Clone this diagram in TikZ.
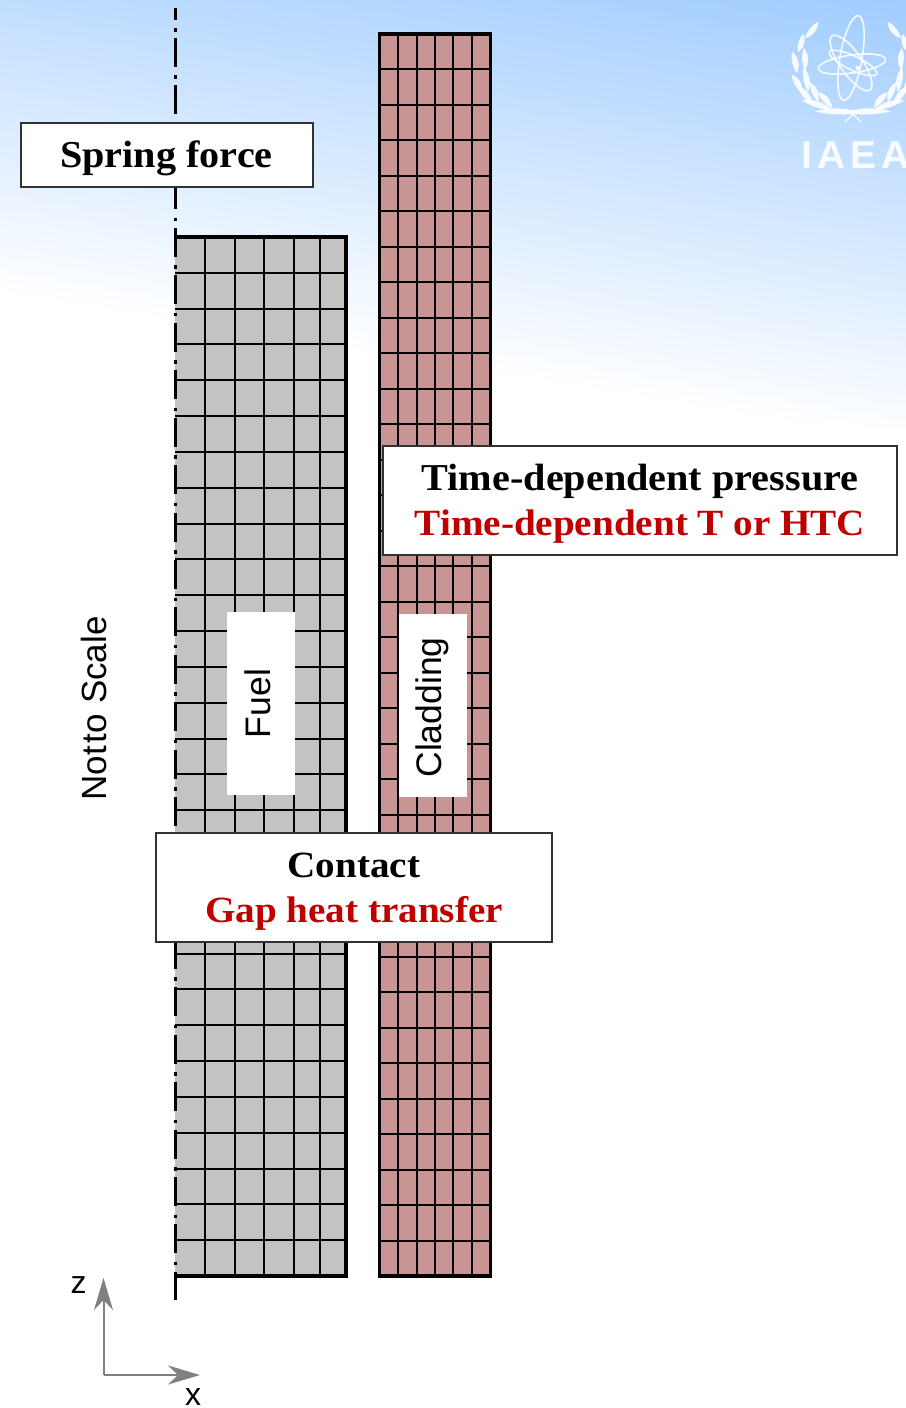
\documentclass[tikz,border=0pt]{standalone}
\usepackage{fontspec}
\setmainfont[FakeStretch=1.058]{Liberation Serif}
\setsansfont{Liberation Sans}
\newfontfamily\logofont[LetterSpace=13]{Liberation Sans}
\usetikzlibrary{positioning,arrows.meta}
\definecolor{skyblue}{RGB}{160,204,255}
\definecolor{fuelgray}{RGB}{195,195,195}
\definecolor{cladpink}{RGB}{200,148,148}
\definecolor{labelred}{RGB}{192,0,0}
\definecolor{boxedge}{RGB}{50,50,50}
\definecolor{axisgray}{RGB}{128,128,128}
\newcommand{\lift}{\rule{0pt}{34pt}}
\newcommand{\redline}[1]{\textcolor{labelred}{\fontsize{37}{45}\selectfont #1}}

\begin{document}
\begin{tikzpicture}[
  x=1pt, y=-1pt,
  gridline/.style={line width=2pt, line cap=butt},
  outline/.style={line width=3.2pt, miter limit=10},
  infobox/.style={draw=boxedge, fill=white, line width=2pt, align=center, inner sep=0pt,
    font=\fontsize{38}{45}\selectfont\bfseries},
  sidelabel/.style={inner sep=0pt, rotate=90, font=\sffamily\fontsize{35.5}{35.5}\selectfont},
  axislabel/.style={inner sep=0pt, font=\sffamily\fontsize{32}{32}\selectfont},
  scalelabel/.style={inner sep=0pt, rotate=90, font=\sffamily\fontsize{35}{35}\selectfont},
  axisarrow/.style={draw=axisgray, line width=2pt, -{Stealth[length=32pt, width=19pt, inset=10pt]}},
  logoline/.style={draw=white, draw opacity=0.85, line width=1.7pt},
]
\useasboundingbox (0,0) rectangle (905,1408);

% Background
\begin{scope}
  \clip (-10,-10) rectangle (915,426);
  \foreach \p in {0,...,100}
    \fill[white!\p!skyblue, rotate around={-9.4:(452,365)}] (-300,365-4.4*100+4.4*\p) rectangle (1200,900);

  % Logo
  \foreach \tilt/\big/\small/\cx/\cy in {80/43/11/851/58, -55/33/11/851/63, 8/34/9/852/64, -25/26/7/853/63}
    \draw[logoline] (\cx,\cy) ellipse[x radius=\big, y radius=\small, rotate=\tilt];
  \fill[white, opacity=0.9] (858,68) circle (2.4);
  \foreach \s in {1,-1} {
    \begin{scope}[shift={(853,0)}, xscale=\s]
      \foreach \px/\py/\ang/\len in {-48/38/51/21, -55/52/74/19, -56/73/103/22, -48/70/93/22, -51/93/119/21,
          -45/92/100/25, -40/105/129/25, -35/102/112/21, -21/110/162/32, -21/108/131/21, 9/113/178/47}
        \fill[white, opacity=0.9, shift={(\px,\py)}, rotate=\ang]
          (0,0) .. controls (0.3*\len,5) and (0.7*\len,5) .. (\len,0)
          .. controls (0.7*\len,-3) and (0.3*\len,-3) .. (0,0);
      \draw[white, opacity=0.9, line width=1.2pt] (-8,122) .. controls (-2,116) and (2,112) .. (5,111);
    \end{scope}
  }
  \node[anchor=base west, inner sep=0pt, text=white, opacity=0.9,
        font=\logofont\bfseries\fontsize{39}{39}\selectfont] (iaea) at (801,168) {IAEA};
\end{scope}

% Fuel
\fill[fuelgray] (175,237) rectangle (346,1276);
\foreach \gx in {205,234.5,264,294,320}
  \draw[gridline] (\gx,237) -- (\gx,1276);
\foreach \row in {1,...,28}
  \draw[gridline] (175,237+\row*35.83) -- (346,237+\row*35.83);
\draw[outline] (175,237) -- (346,237) -- (346,1276) -- (175,1276);

% Cladding
\fill[cladpink] (379.5,34) rectangle (490.5,1276);
\foreach \gx in {398,416.5,435,453,472}
  \draw[gridline] (\gx,34) -- (\gx,1276);
\foreach \row in {1,...,34}
  \draw[gridline] (379.5,34+\row*35.49) -- (490.5,34+\row*35.49);
\draw[outline] (379.5,34) rectangle (490.5,1276);

% Symmetry line
\draw[line width=3pt, dash pattern=on 29pt off 8.5pt on 3.5pt off 6.46pt, dash phase=17.5pt] (175,8) -- (175,1300);

% Boxes
\node[infobox, minimum width=292pt, minimum height=64pt] (spring) at (166.5,155) {\lift Spring force};
\node[infobox, minimum width=514pt, minimum height=109pt] (bc) at (640,500)
  {\lift Time-dependent pressure\\\redline{Time-dependent T or HTC}};
\node[infobox, minimum width=396pt, minimum height=109pt] (contact) at (354,887)
  {\lift\fontsize{37}{45}\selectfont Contact\\\redline{Gap heat transfer}};

% Labels
\fill[white] (227,612) rectangle (295,795);
\fill[white] (399,614) rectangle (467,797);
\node[sidelabel] (fuel) at (258,703.5) {Fuel};
\node[sidelabel] (clad) at (432,707.5) {Cladding};
\node[scalelabel] (scale) at (94,708.5) {{\spaceskip=3pt\relax Not to}\hspace{10pt}Scale};

% Axes
\coordinate (origin) at (103.5,1375);
\coordinate (ztip) at (103.5,1278);
\coordinate (xtip) at (200,1375);
\draw[axisarrow] (origin) -- (ztip);
\draw[axisarrow] (origin) -- (xtip);
\node[axislabel] (zlab) at (78.5,1285) {z};
\node[axislabel] (xlab) at (193,1397) {x};
\end{tikzpicture}
\end{document}
